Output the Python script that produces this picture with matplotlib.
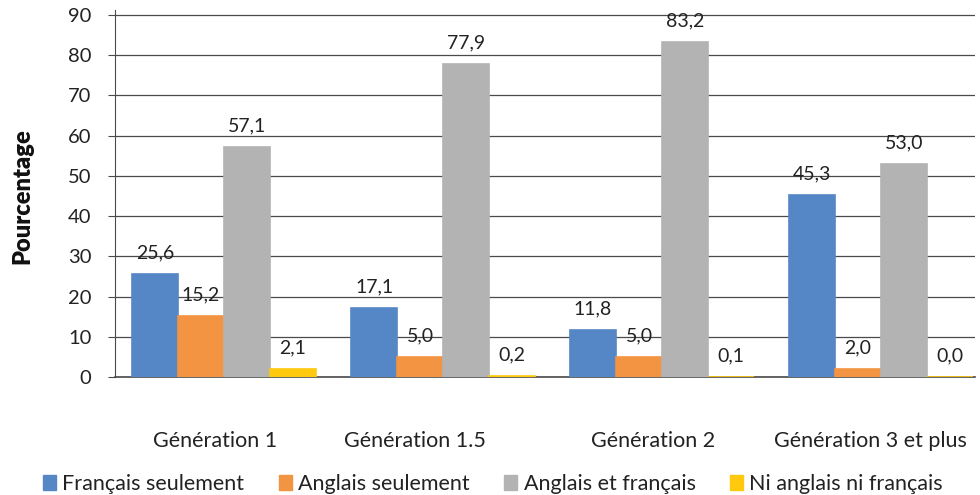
import matplotlib
matplotlib.use("Agg")
import matplotlib.pyplot as plt
import matplotlib.patches as mpatches
import numpy as np

plt.rcParams['font.family'] = ['Lato', 'DejaVu Sans']

# --- DATA ---
groups = ["Génération 1", "Génération 1.5", "Génération 2", "Génération 3 et plus"]
series_names = ["Français seulement", "Anglais seulement", "Anglais et français", "Ni anglais ni français"]
francais_seul = [25.6, 17.1, 11.8, 45.3]
anglais_seul = [15.2, 5.0, 5.0, 2.0]
anglais_et_francais = [57.1, 77.9, 83.2, 53.0]
ni_l_un_ni_l_autre = [2.1, 0.2, 0.1, 0.0]
y_ticks = [0, 10, 20, 30, 40, 50, 60, 70, 80, 90]

COLORS = ["#5586C6", "#F29441", "#B3B3B3", "#FFC90E"]
GRID = "#4a4a4a"
# category labels sit a little left of the bar groups in the original
label_shift = [-0.04, -0.13, -0.04, -0.05]

fig = plt.figure(figsize=(9.8, 4.95), dpi=100)
ax = fig.add_axes([115 / 980, 1 - 377 / 495, 0.995 - 115 / 980, (377 - 10) / 495])

x = np.arange(len(groups))
w = 0.21
all_series = [francais_seul, anglais_seul, anglais_et_francais, ni_l_un_ni_l_autre]

for k, (vals, color, name) in enumerate(zip(all_series, COLORS, series_names)):
    pos = x + (k - 1.5) * w
    ax.bar(pos, vals, width=w, color=color, edgecolor=color, linewidth=1.2, zorder=3, label=name)
    for xp, v in zip(pos, vals):
        ax.annotate(f"{v:.1f}".replace(".", ","), (xp, v), xytext=(0, 9),
                    textcoords="offset points", ha="center", va="bottom",
                    fontsize=14, color="#222222", zorder=4)

ax.set_ylim(0, 91.2)
ax.set_xlim(-0.498, 3.43)
ax.set_yticks(y_ticks)
ax.set_yticklabels([str(t) for t in y_ticks])
ax.set_xticks(x + np.array(label_shift))
ax.set_xticklabels(groups)

ax.grid(True, axis='y', color=GRID, linewidth=0.9, zorder=0)
ax.set_axisbelow(True)
for s in ["top", "right"]:
    ax.spines[s].set_visible(False)
ax.spines["left"].set_color(GRID)
ax.spines["bottom"].set_color(GRID)
ax.spines["bottom"].set_linewidth(1.2)

ax.tick_params(axis='y', length=5, pad=12, labelsize=14.5, colors="#222222", color=GRID)
ax.tick_params(axis='x', length=0, pad=39, labelsize=15.5, colors="#222222")

fig.text(22 / 980, 1 - 196 / 495, "Pourcentage", rotation=90, ha="center", va="center",
         fontsize=17, fontweight="heavy", color="#111111")

handles = [mpatches.Patch(color=c, label=n) for c, n in zip(COLORS, series_names)]
fig.legend(handles=handles, loc="center", bbox_to_anchor=(0.503, 0.023), ncol=4,
           frameon=False, fontsize=15.5, handlelength=0.6, handleheight=0.7,
           handletextpad=0.3, columnspacing=1.6, labelcolor="#222222")

fig.savefig("out.png", dpi=100)
